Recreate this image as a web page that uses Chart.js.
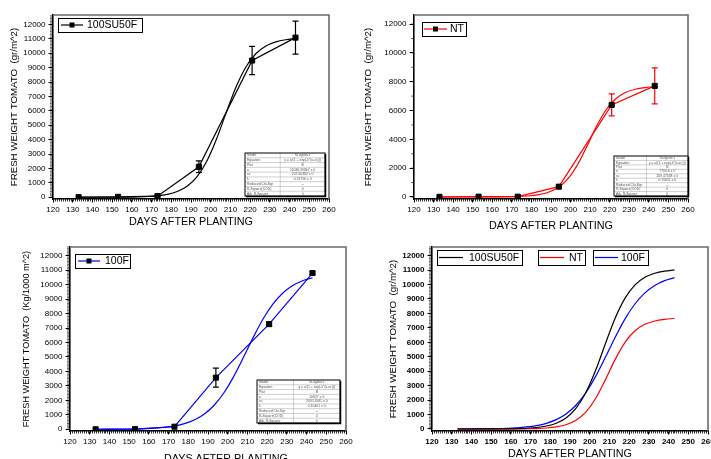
<!DOCTYPE html>
<html>
<head>
<meta charset="utf-8">
<script src="https://cdn.jsdelivr.net/npm/chart.js@4/dist/chart.umd.min.js"></script>
<style>
  html, body { margin: 0; padding: 0; background: #fff; width: 711px; height: 459px; overflow: hidden; }
  canvas { position: absolute; left: 0; top: 0; }
</style>
</head>
<body>
<canvas id="c1" width="711" height="480"></canvas>
<canvas id="c2" width="711" height="480"></canvas>
<canvas id="c3" width="711" height="480"></canvas>
<canvas id="c4" width="711" height="480"></canvas>
<script>
// ---- measured harvest data (mean and error per sampling day) ----
const days = [133, 153, 173, 194, 221, 243];

const su50fMean = [10, 30, 80, 2120, 9490, 11080];
const su50fErr  = [0, 0, 40, 400, 985, 1145];

const ntMean = [10, 20, 20, 715, 6390, 7710];
const ntErr  = [0, 0, 0, 60, 765, 1250];

const f100Mean = [0, 10, 180, 3570, 7270, 10800];
const f100Err  = [0, 0, 0, 655, 150, 100];

// ---- fitted logistic growth curves ----
const fitDays  = [133, 138, 143, 148, 153, 158, 163, 168, 173, 178, 183, 188, 193, 198, 203, 208, 213, 218, 223, 228, 233, 238, 243];
const su50fFit = [0, 1, 2, 3, 7, 14, 27, 53, 104, 205, 399, 765, 1422, 2503, 4062, 5924, 7704, 9078, 9976, 10499, 10784, 10934, 11011];
const ntFit    = [0, 0, 0, 1, 2, 3, 7, 15, 32, 68, 142, 294, 598, 1165, 2110, 3419, 4838, 6018, 6802, 7248, 7479, 7594, 7650];
const f100Fit  = [4, 6, 11, 18, 30, 51, 85, 142, 237, 393, 646, 1043, 1646, 2507, 3641, 4979, 6372, 7643, 8671, 9424, 9937, 10270, 10478];

// ---- axis ticks ----
const xTicks      = [120, 130, 140, 150, 160, 170, 180, 190, 200, 210, 220, 230, 240, 250, 260];
const yTicks1000  = [0, 1000, 2000, 3000, 4000, 5000, 6000, 7000, 8000, 9000, 10000, 11000, 12000];
const yTicks2000  = [0, 2000, 4000, 6000, 8000, 10000, 12000];

// ---- fit report tables ----
const tableSU50F = [
  ['Model', 'SLogistic1'], ['Equation', 'y = a/(1 + exp(-k*(x-xc)))'], ['Plot', 'B'],
  ['a', '11086.99867 \u00b1 0'], ['xc', '207.00382 \u00b1 0'], ['k', '0.13756 \u00b1 0'],
  ['Reduced Chi-Sqr', '--'], ['R-Square(COD)', '0'], ['Adj. R-Square', '0']
];
const tableNT = [
  ['Model', 'SLogistic1'], ['Equation', 'y = a/(1 + exp(-k*(x-xc)))'], ['Plot', 'B'],
  ['a', '7700.6 \u00b1 0'], ['xc', '209.47538 \u00b1 0'], ['k', '0.15011 \u00b1 0'],
  ['Reduced Chi-Sqr', '--'], ['R-Square(COD)', '0'], ['Adj. R-Square', '0']
];
const table100F = [
  ['Model', 'SLogistic1'], ['Equation', 'y = a/(1 + exp(-k*(x-xc)))'], ['Plot', 'B'],
  ['a', '10827 \u00b1 0'], ['xc', '209.51081 \u00b1 0'], ['k', '0.10401 \u00b1 0'],
  ['Reduced Chi-Sqr', '--'], ['R-Square(COD)', '0'], ['Adj. R-Square', '0']
];

const FONT = "'Liberation Sans', Arial, Helvetica, sans-serif";
const W = 711, H = 480;
const RED = '#ff0000', BLUE = '#0000ff', BLACK = '#000000';

const pts = (xs, ys) => xs.map((x, i) => ({ x, y: ys[i] }));

// Frame (top/right edges) and dense minor ticks along both axes
const panelFrame = {
  id: 'panelFrame',
  afterDraw(chart, args, o) {
    const { ctx, chartArea: a, scales: { x, y } } = chart;
    ctx.save();
    ctx.strokeStyle = '#6a6a6a';
    ctx.lineWidth = 1.6;
    ctx.beginPath();
    ctx.moveTo(a.left, a.top);
    ctx.lineTo(a.right, a.top);
    ctx.lineTo(a.right, a.bottom);
    ctx.stroke();

    ctx.strokeStyle = '#000';
    ctx.lineWidth = 0.8;
    ctx.beginPath();
    for (let v = x.min; v <= x.max + 1e-6; v += o.xMinor) {
      const px = Math.round(x.getPixelForValue(v)) + 0.5;
      ctx.moveTo(px, a.bottom);
      ctx.lineTo(px, a.bottom + o.minorLen);
    }
    ctx.stroke();
    ctx.lineWidth = o.yMinorWidth;
    ctx.beginPath();
    for (let v = 0; v <= y.max; v += o.yMinor) {
      const py = y.getPixelForValue(v);
      ctx.moveTo(a.left, py);
      ctx.lineTo(a.left - o.yMinorLen, py);
    }
    ctx.stroke();
    ctx.restore();
  }
};

// Vertical error bars with caps, drawn beneath the markers
const errorBars = {
  id: 'errorBars',
  beforeDatasetsDraw(chart) {
    const { ctx, scales: { x, y } } = chart;
    chart.data.datasets.forEach(ds => {
      if (!ds.errors) return;
      ctx.save();
      ctx.strokeStyle = ds.errorColor || '#000';
      ctx.lineWidth = 1.2;
      ds.data.forEach((p, i) => {
        const e = ds.errors[i];
        if (!e) return;
        const px = x.getPixelForValue(p.x);
        const top = y.getPixelForValue(p.y + e);
        const bot = y.getPixelForValue(p.y - e);
        ctx.beginPath();
        ctx.moveTo(px, top); ctx.lineTo(px, bot);
        ctx.moveTo(px - 3, top); ctx.lineTo(px + 3, top);
        ctx.moveTo(px - 3, bot); ctx.lineTo(px + 3, bot);
        ctx.stroke();
      });
      ctx.restore();
    });
  }
};

// Boxed legend entries placed inside the plot
const boxLegend = {
  id: 'boxLegend',
  afterDraw(chart, args, o) {
    if (!o.items) return;
    const { ctx } = chart;
    ctx.save();
    o.items.forEach(it => {
      const ds = chart.data.datasets[it.dataset];
      const [bx, by, bw, bh] = it.box;
      const cy = by + bh / 2;
      ctx.strokeStyle = '#000';
      ctx.lineWidth = 1;
      ctx.strokeRect(bx + 0.5, by + 0.5, bw, bh);
      ctx.strokeStyle = ds.borderColor;
      ctx.lineWidth = 1.2;
      ctx.beginPath();
      ctx.moveTo(it.line[0], cy);
      ctx.lineTo(it.line[1], cy);
      ctx.stroke();
      if (it.marker) {
        const mx = (it.line[0] + it.line[1]) / 2;
        ctx.fillStyle = '#000';
        ctx.fillRect(mx - 2.5, cy - 2.5, 5, 5);
      }
      ctx.fillStyle = '#000';
      ctx.font = o.fontSize + 'px ' + FONT;
      ctx.textBaseline = 'middle';
      ctx.textAlign = 'left';
      ctx.fillText(ds.label, it.textX, cy + 0.5);
    });
    ctx.restore();
  }
};

// Small fit-report table in the lower right corner of the plot
const fitTable = {
  id: 'fitTable',
  afterDraw(chart, args, o) {
    if (!o.rows) return;
    const { ctx } = chart;
    const [tx, ty, tw, th] = o.rect;
    const rh = th / o.rows.length;
    const split = tx + tw * 0.44;
    ctx.save();
    ctx.fillStyle = '#fff';
    ctx.fillRect(tx, ty, tw, th);
    ctx.strokeStyle = '#a0a0a0';
    ctx.lineWidth = 0.5;
    ctx.beginPath();
    for (let i = 1; i < o.rows.length; i++) {
      ctx.moveTo(tx, ty + i * rh);
      ctx.lineTo(tx + tw, ty + i * rh);
    }
    ctx.moveTo(split, ty);
    ctx.lineTo(split, ty + th);
    ctx.stroke();
    ctx.strokeStyle = '#000';
    ctx.lineWidth = 1;
    ctx.strokeRect(tx, ty, tw, th);
    ctx.lineWidth = 1.5;
    ctx.beginPath();
    ctx.moveTo(tx + tw + 0.5, ty + 1);
    ctx.lineTo(tx + tw + 0.5, ty + th + 0.5);
    ctx.lineTo(tx + 1, ty + th + 0.5);
    ctx.stroke();
    ctx.fillStyle = '#555';
    ctx.font = '3.4px ' + FONT;
    ctx.textBaseline = 'middle';
    o.rows.forEach((r, i) => {
      const cy = ty + rh * (i + 0.5);
      ctx.textAlign = 'left';
      ctx.fillText(r[0], tx + 2, cy);
      ctx.textAlign = 'center';
      ctx.fillText(r[1], (split + tx + tw) / 2, cy);
    });
    ctx.restore();
  }
};

function panel(id, o) {
  return new Chart(document.getElementById(id), {
    type: 'scatter',
    data: { datasets: o.datasets },
    plugins: [panelFrame, errorBars, boxLegend, fitTable],
    options: {
      responsive: false,
      animation: false,
      events: [],
      layout: {
        padding: { left: o.pl, top: o.area.top, right: W - o.area.right, bottom: H - o.xb }
      },
      plugins: {
        legend: { display: false },
        tooltip: { enabled: false },
        panelFrame: {
          xMinor: 1, minorLen: 2.5,
          yMinor: o.yMinor, yMinorLen: o.yMinor >= 1000 ? 2.5 : 3, yMinorWidth: o.yMinor >= 1000 ? 0.8 : 0.6
        },
        boxLegend: { items: o.legend, fontSize: 10.5 },
        fitTable: { rows: o.table, rect: o.tableRect }
      },
      scales: {
        x: {
          type: 'linear', min: 120, max: 260,
          afterBuildTicks: s => { s.ticks = xTicks.map(v => ({ value: v })); },
          afterFit: s => { s.height = o.xb - o.area.bottom; s.paddingLeft = 0; s.paddingRight = 0; },
          grid: { display: true, drawOnChartArea: false, drawTicks: true, tickLength: 3.5, tickColor: '#000', tickWidth: 1 },
          border: { display: true, color: '#000', width: 1.6 },
          ticks: {
            color: '#000', padding: 2, autoSkip: false, maxRotation: 0,
            font: { family: FONT, size: 8, weight: o.bold ? 'bold' : 'normal' },
            callback: v => String(v)
          },
          title: {
            display: true, text: o.xTitle || 'DAYS AFTER PLANTING', color: '#000',
            font: { family: FONT, size: 10.8 }, padding: { top: 0, bottom: 2 }
          }
        },
        y: {
          min: o.yMin, max: o.yMax,
          afterBuildTicks: s => { s.ticks = o.yTicks.map(v => ({ value: v })); },
          afterFit: s => { s.width = o.area.left - o.pl; s.paddingTop = 0; s.paddingBottom = 0; },
          grid: { display: true, drawOnChartArea: false, drawTicks: true, tickLength: 4.5, tickColor: '#000', tickWidth: 1 },
          border: { display: true, color: '#000', width: 1.6 },
          ticks: {
            color: '#000', padding: 3, autoSkip: false,
            font: { family: FONT, size: 8, weight: o.bold ? 'bold' : 'normal' },
            callback: v => String(v)
          },
          title: {
            display: true, text: o.yTitle, color: '#000',
            font: { family: FONT, size: o.yTitleSize || 9.7 }, padding: { top: o.yTitlePad, bottom: 0 }
          }
        }
      }
    }
  });
}

function dataSet(label, mean, err, color, errColor) {
  return {
    label, data: pts(days, mean), errors: err, errorColor: errColor,
    showLine: true, tension: 0, borderColor: color, borderWidth: 1.2,
    pointStyle: 'rect', pointRadius: 3.6, pointBackgroundColor: '#000', pointBorderColor: '#000', pointBorderWidth: 1
  };
}
function fitSet(label, ys, color) {
  return {
    label, data: pts(fitDays, ys), showLine: true, cubicInterpolationMode: 'monotone',
    borderColor: color, borderWidth: 1.2, pointRadius: 0
  };
}

// 100SU50F with fit
panel('c1', {
  pl: 0, area: { left: 53, right: 329, top: 15, bottom: 199 }, xb: 230.5,
  yMin: -120, yMax: 12650, yTicks: yTicks1000, yMinor: 100,
  yTitle: 'FRESH WEIGHT TOMATO  (gr/m^2)', yTitlePad: 8.2,
  datasets: [dataSet('100SU50F', su50fMean, su50fErr, BLACK, BLACK), fitSet('100SU50F fit', su50fFit, BLACK)],
  legend: [{ dataset: 0, box: [58, 18, 84, 14], line: [61, 83], marker: true, textX: 87 }],
  table: tableSU50F, tableRect: [245, 153, 80, 43]
});

// NT with fit
panel('c2', {
  pl: 355, area: { left: 414, right: 688, top: 15, bottom: 199 }, xb: 234.5,
  yMin: -140, yMax: 12630, yTicks: yTicks2000, yMinor: 1000,
  yTitle: 'FRESH WEIGHT TOMATO  (gr/m^2)', yTitlePad: 7.2,
  datasets: [dataSet('NT', ntMean, ntErr, RED, RED), fitSet('NT fit', ntFit, RED)],
  legend: [{ dataset: 0, box: [422, 22, 44, 14], line: [424, 447], marker: true, textX: 450 }],
  table: tableNT, tableRect: [614, 156, 74, 40]
});

// 100F with fit (axis title sits right of centre, kept with leading spaces)
panel('c3', {
  pl: 0, area: { left: 70, right: 346, top: 247, bottom: 431 }, xb: 467.5,
  yMin: -118, yMax: 12600, yTicks: yTicks1000, yMinor: 100,
  xTitle: '            DAYS AFTER PLANTING',
  yTitle: 'FRESH WEIGHT TOMATO  (Kg/1000 m^2)', yTitlePad: 21.2, yTitleSize: 9.2,
  datasets: [dataSet('100F', f100Mean, f100Err, BLUE, BLACK), fitSet('100F fit', f100Fit, BLUE)],
  legend: [{ dataset: 0, box: [75, 254, 55, 14], line: [78, 100], marker: true, textX: 105 }],
  table: table100F, tableRect: [257, 380, 83, 43]
});

// fitted curves compared
panel('c4', {
  pl: 355, area: { left: 432, right: 708, top: 247, bottom: 431 }, xb: 462.5, bold: true,
  yMin: -139, yMax: 12600, yTicks: yTicks1000, yMinor: 100,
  yTitle: 'FRESH WEIGHT TOMATO  (gr/m^2)', yTitlePad: 32.2,
  datasets: [fitSet('100SU50F', su50fFit, BLACK), fitSet('NT', ntFit, RED), fitSet('100F', f100Fit, BLUE)],
  legend: [
    { dataset: 0, box: [437, 250, 85, 15], line: [439, 463], marker: false, textX: 469 },
    { dataset: 1, box: [538, 250, 47, 15], line: [540, 564], marker: false, textX: 569 },
    { dataset: 2, box: [593, 250, 55, 15], line: [595, 618], marker: false, textX: 621 }
  ]
});
</script>
</body>
</html>
